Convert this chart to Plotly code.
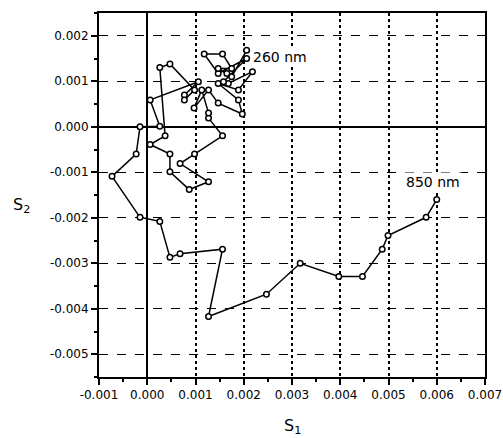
import plotly.graph_objects as go

# Stokes trajectory, from 850 nm end to 260 nm end (values in units of 1e-3)
s1_milli = [6.00, 5.78, 4.99, 4.87, 4.46, 3.97, 3.17, 2.47, 1.27, 1.56,
            0.68, 0.47, 0.26, -0.15, -0.73, -0.23, -0.15, 0.26, 0.06, 1.06,
            0.77, 0.77, 0.98, 0.47, 0.26, 0.37, 0.06, 0.47, 0.47, 0.87,
            1.27, 0.68, 0.98, 1.56, 1.27, 1.27, 1.13, 0.97, 1.27, 1.47,
            1.97, 1.89, 1.47, 1.89, 2.18, 1.68, 1.58, 2.06, 1.47, 1.18,
            1.56, 1.75, 1.47, 1.65, 1.75, 2.06]
s2_milli = [-1.60, -1.99, -2.39, -2.69, -3.29, -3.29, -3.00, -3.68, -4.17, -2.69,
            -2.79, -2.87, -2.08, -1.99, -1.09, -0.60, 0.00, 0.01, 0.59, 0.99,
            0.70, 0.59, 0.81, 1.38, 1.30, -0.20, -0.39, -0.60, -0.99, -1.38,
            -1.21, -0.81, -0.60, -0.20, 0.19, 0.30, 0.81, 0.41, 0.81, 0.52,
            0.28, 0.59, 0.95, 0.81, 1.21, 0.95, 0.99, 1.50, 1.17, 1.60,
            1.60, 1.28, 1.28, 1.17, 1.10, 1.68]
s1 = [v * 1e-3 for v in s1_milli]
s2 = [v * 1e-3 for v in s2_milli]

x_tickvals = [-0.001, 0.0, 0.001, 0.002, 0.003, 0.004, 0.005, 0.006, 0.007]
x_ticktext = ["-0.001", "0.000", "0.001", "0.002", "0.003", "0.004", "0.005", "0.006", "0.007"]
y_tickvals = [-0.005, -0.004, -0.003, -0.002, -0.001, 0.0, 0.001, 0.002]
y_ticktext = ["-0.005", "-0.004", "-0.003", "-0.002", "-0.001", "0.000", "0.001", "0.002"]

labels = ["850 nm", "260 nm"]
label_x = [0.00533, 0.00216]
label_y = [-0.00122, 0.00154]

FONT = "DejaVu Sans"

fig = go.Figure()
fig.add_trace(go.Scatter(
    x=s1, y=s2, mode="lines+markers",
    line=dict(color="black", width=1.5),
    marker=dict(symbol="circle", size=5.5, color="white",
                line=dict(color="black", width=1.5)),
    showlegend=False, hoverinfo="skip",
))

for t, lx, ly in zip(labels, label_x, label_y):
    fig.add_annotation(x=lx, y=ly, text=t, showarrow=False, xanchor="left",
                       yanchor="middle", bgcolor="white", borderpad=1,
                       font=dict(family=FONT, size=14, color="black"))

fig.add_annotation(xref="paper", yref="paper", x=0.5, y=-0.135,
                   xanchor="center", yanchor="middle",
                   text="S<sub>1</sub>", showarrow=False,
                   font=dict(family=FONT, size=16, color="black"))
fig.add_annotation(xref="paper", yref="paper", x=-0.202, y=0.47,
                   xanchor="center", yanchor="middle",
                   text="S<sub>2</sub>", showarrow=False,
                   font=dict(family=FONT, size=16, color="black"))

axis_common = dict(
    showline=True, linecolor="black", linewidth=2, mirror=True,
    ticks="outside", ticklen=6, tickwidth=1.5, tickcolor="black",
    showgrid=True, gridcolor="black",
    zeroline=True, zerolinecolor="black", zerolinewidth=2,
    tickfont=dict(family=FONT, size=12, color="black"),
    tickmode="array", automargin=False, ticklabeloverflow="allow",
)

fig.update_xaxes(
    **axis_common, range=[-0.001, 0.007],
    tickvals=x_tickvals, ticktext=x_ticktext,
    gridwidth=2, griddash="dot",
    minor=dict(ticks="outside", ticklen=3, tickwidth=1.5, tickcolor="black",
               dtick=0.0005, tick0=0, showgrid=False),
)
fig.update_yaxes(
    **axis_common, range=[-0.0055, 0.0025],
    tickvals=y_tickvals, ticktext=y_ticktext,
    gridwidth=1.3, griddash="dash",
    minor=dict(ticks="outside", ticklen=3, tickwidth=1.5, tickcolor="black",
               dtick=0.0005, tick0=0, showgrid=False),
)

fig.update_layout(
    width=503, height=438,
    margin=dict(l=99, r=18, t=13, b=61),
    plot_bgcolor="white", paper_bgcolor="white",
    font=dict(family=FONT, color="black"),
)

# remove the default page margin so the 503x438 figure fills the window exactly
fig.write_html("out.html",
               config={"displayModeBar": False},
               post_script="document.body.style.margin='0';"
                           "document.body.style.overflow='hidden';")
